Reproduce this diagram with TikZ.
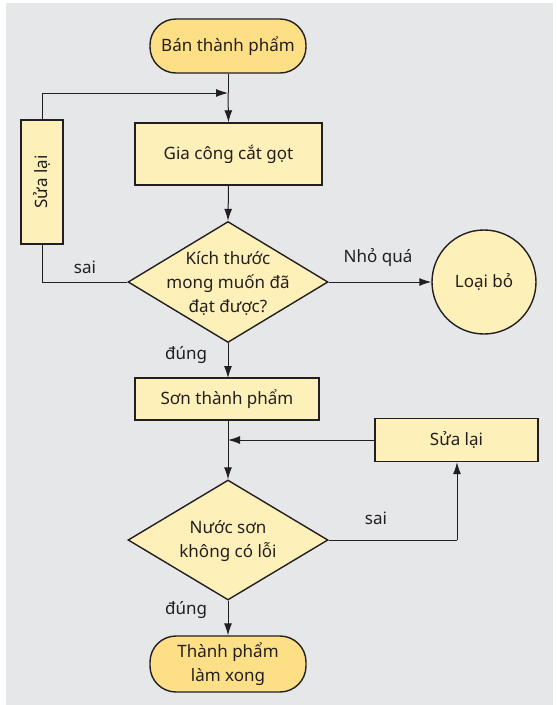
\documentclass[tikz,border=0pt]{standalone}
\usepackage{fontspec}
\setmainfont{Noto Sans}
\usetikzlibrary{shapes.geometric,arrows.meta}
\definecolor{bg}{HTML}{E6E7E8}
\definecolor{termfill}{HTML}{FDDF85}
\definecolor{boxfill}{HTML}{FEF0B9}
\definecolor{ink}{HTML}{231F20}
\begin{document}
\begin{tikzpicture}[x=1pt,y=-1pt,
  every node/.style={font=\fontsize{17}{24}\selectfont, text=ink},
  base/.style={draw=ink, line width=1.4pt, inner sep=0pt, align=center},
  term/.style={base, fill=termfill, rounded corners=26pt},
  procbox/.style={base, fill=boxfill},
  decis/.style={base, fill=boxfill, diamond, aspect=1.65},
  circ/.style={base, fill=boxfill, circle},
  conn/.style={draw=ink, line width=1pt},
  arr/.style={conn, -{Latex[length=12pt,width=8pt]}},
  lbl/.style={inner sep=0pt}
]
\useasboundingbox (0,0) rectangle (557,705);
\fill[bg] (6,3) rectangle (553,705);

\node[term, minimum width=156pt, minimum height=54pt] (start) at (228,46) {Bán thành phẩm};
\node[procbox, minimum width=187pt, minimum height=62pt] (cut) at (228.5,154) {Gia công cắt gọt};
\node[procbox, minimum width=42pt, minimum height=124pt] (fix1) at (42,182) {};
\node[rotate=90, lbl] at (fix1.center) {Sửa lại};
\node[decis, minimum width=200pt, minimum height=121pt] (d1) at (228,282) {};
\node[lbl, align=center] at (228,283) {Kích thước\\mong muốn đã\\đạt được?};
\node[circ, minimum size=104pt] (drop) at (484,282) {Loại bỏ};
\node[procbox, minimum width=184pt, minimum height=42pt] (paint) at (227,399) {Sơn thành phẩm};
\node[procbox, minimum width=163pt, minimum height=43pt] (fix2) at (456.5,440) {Sửa lại};
\node[decis, minimum width=200pt, minimum height=120pt] (d2) at (228,540) {};
\node[lbl, align=center] at (228,541) {Nước sơn\\không có lỗi};
\node[term, minimum width=156pt, minimum height=56pt] (done) at (228,664) {Thành phẩm\\làm xong};

\coordinate (m1) at (228,93);
\coordinate (m2) at (228,440);
\coordinate (c1) at (42,282);
\coordinate (c2) at (457,540);

\draw[conn] (start.south) -- (m1);
\draw[arr] (m1) -- (cut.north);
\draw[arr] (fix1.north) |- (m1);
\draw[conn] (d1.west) -- (c1) -- (fix1.south);
\node[lbl] at (85,267) {sai};
\draw[arr] (cut.south) -- (d1.north);
\draw[arr] (d1.east) -- (drop.west);
\node[lbl] at (378,258) {Nhỏ quá};
\draw[arr] (d1.south) -- (228,378);
\node[lbl] at (186,355) {đúng};
\draw[conn] (228,420) -- (m2);
\draw[arr] (fix2.west) -- (m2);
\draw[arr] (m2) -- (d2.north);
\draw[conn] (d2.east) -- (c2);
\draw[arr] (c2) -- (fix2.south -| c2);
\node[lbl] at (376,518) {sai};
\draw[arr] (d2.south) -- (done.north);
\node[lbl] at (186,610) {đúng};
\end{tikzpicture}
\end{document}
